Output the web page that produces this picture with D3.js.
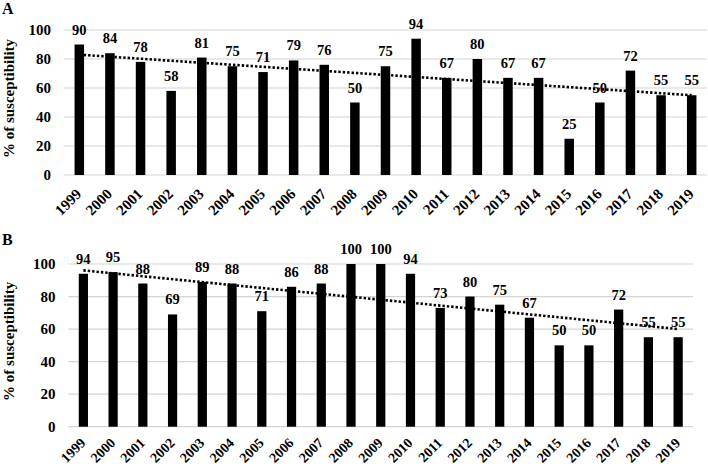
<!DOCTYPE html>
<html>
<head>
<meta charset="utf-8">
<script src="https://cdn.jsdelivr.net/npm/d3@7"></script>
<style>
  body { margin: 0; background: #fff; }
  text { font-family: "Liberation Serif", "Times New Roman", serif; font-weight: bold; fill: #000; }
</style>
</head>
<body>
<svg id="chart" width="708" height="468"></svg>
<script>
const years = ["1999", "2000", "2001", "2002", "2003", "2004", "2005", "2006", "2007", "2008",
    "2009", "2010", "2011", "2012", "2013", "2014", "2015", "2016", "2017", "2018", "2019"];
const valuesA = [90, 84, 78, 58, 81, 75, 71, 79, 76, 50, 75, 94, 67, 80, 67, 67, 25, 50, 72, 55, 55];
const valuesB = [94, 95, 88, 69, 89, 88, 71, 86, 88, 100, 100, 94, 73, 80, 75, 67, 50, 50, 72, 55, 55];
const yTicks = [0, 20, 40, 60, 80, 100];

const svg = d3.select("#chart");

function drawPanel(letter, values, box) {
    const g = svg.append("g");

    const x = d3.scaleBand()
        .domain(years)
        .range([box.left, box.right])
        .paddingInner(0.69)
        .paddingOuter(0.345);

    const y = d3.scaleLinear()
        .domain([0, 100])
        .range([box.bottom, box.top]);

    // gridlines
    g.append("g")
        .selectAll("line")
        .data(yTicks)
        .enter().append("line")
        .attr("x1", box.left)
        .attr("x2", box.right)
        .attr("y1", d => y(d))
        .attr("y2", d => y(d))
        .attr("stroke", "#d4d4d4")
        .attr("stroke-width", 1.2);

    // y tick labels
    g.append("g")
        .selectAll("text")
        .data(yTicks)
        .enter().append("text")
        .attr("x", box.left - 13)
        .attr("y", d => y(d))
        .attr("dy", "0.35em")
        .attr("text-anchor", "end")
        .style("font-size", "15px")
        .text(d => d);

    // bars
    g.append("g")
        .selectAll("rect")
        .data(values)
        .enter().append("rect")
        .attr("x", (d, i) => x(years[i]))
        .attr("width", x.bandwidth())
        .attr("y", d => y(d))
        .attr("height", d => y(0) - y(d))
        .attr("fill", "#000");

    // value labels
    g.append("g")
        .selectAll("text")
        .data(values)
        .enter().append("text")
        .attr("x", (d, i) => x(years[i]) + x.bandwidth() / 2)
        .attr("y", d => y(d) - 10)
        .attr("text-anchor", "middle")
        .style("font-size", "14.5px")
        .text(d => d);

    // linear trend line (least squares over bar index)
    const n = values.length;
    const idx = d3.range(n);
    const xMean = d3.mean(idx);
    const yMean = d3.mean(values);
    const slope = d3.sum(idx, i => (i - xMean) * (values[i] - yMean)) /
        d3.sum(idx, i => (i - xMean) * (i - xMean));
    const intercept = yMean - slope * xMean;
    const cx = i => x(years[i]) + x.bandwidth() / 2;
    const trend = d3.line()
        .x(i => cx(i))
        .y(i => y(intercept + slope * i));
    g.append("path")
        .datum([0, n - 1])
        .attr("d", trend)
        .attr("fill", "none")
        .attr("stroke", "#000")
        .attr("stroke-width", 2.6)
        .attr("stroke-dasharray", "2.4,2");

    // year labels
    g.append("g")
        .selectAll("text")
        .data(years)
        .enter().append("text")
        .attr("transform", d => `translate(${x(d) + x.bandwidth() / 2 + 3},${box.bottom + box.yearDy}) rotate(-45)`)
        .attr("text-anchor", "end")
        .style("font-size", box.yearSize + "px")
        .text(d => d);

    // axis title
    g.append("text")
        .attr("transform", `translate(${box.titleX},${(box.top + box.bottom) / 2 - 4}) rotate(-90)`)
        .attr("text-anchor", "middle")
        .style("font-size", "15px")
        .text("% of susceptibility");

    // panel letter
    g.append("text")
        .attr("x", 2)
        .attr("y", box.letterY)
        .style("font-size", "16px")
        .text(letter);
}

drawPanel("A", valuesA, { left: 64, right: 707, top: 30, bottom: 175, titleX: 14, letterY: 14, yearDy: 20, yearSize: 15 });
drawPanel("B", valuesB, { left: 68.5, right: 693, top: 264, bottom: 426.7, titleX: 14, letterY: 245, yearDy: 17, yearSize: 14 });
</script>
</body>
</html>
